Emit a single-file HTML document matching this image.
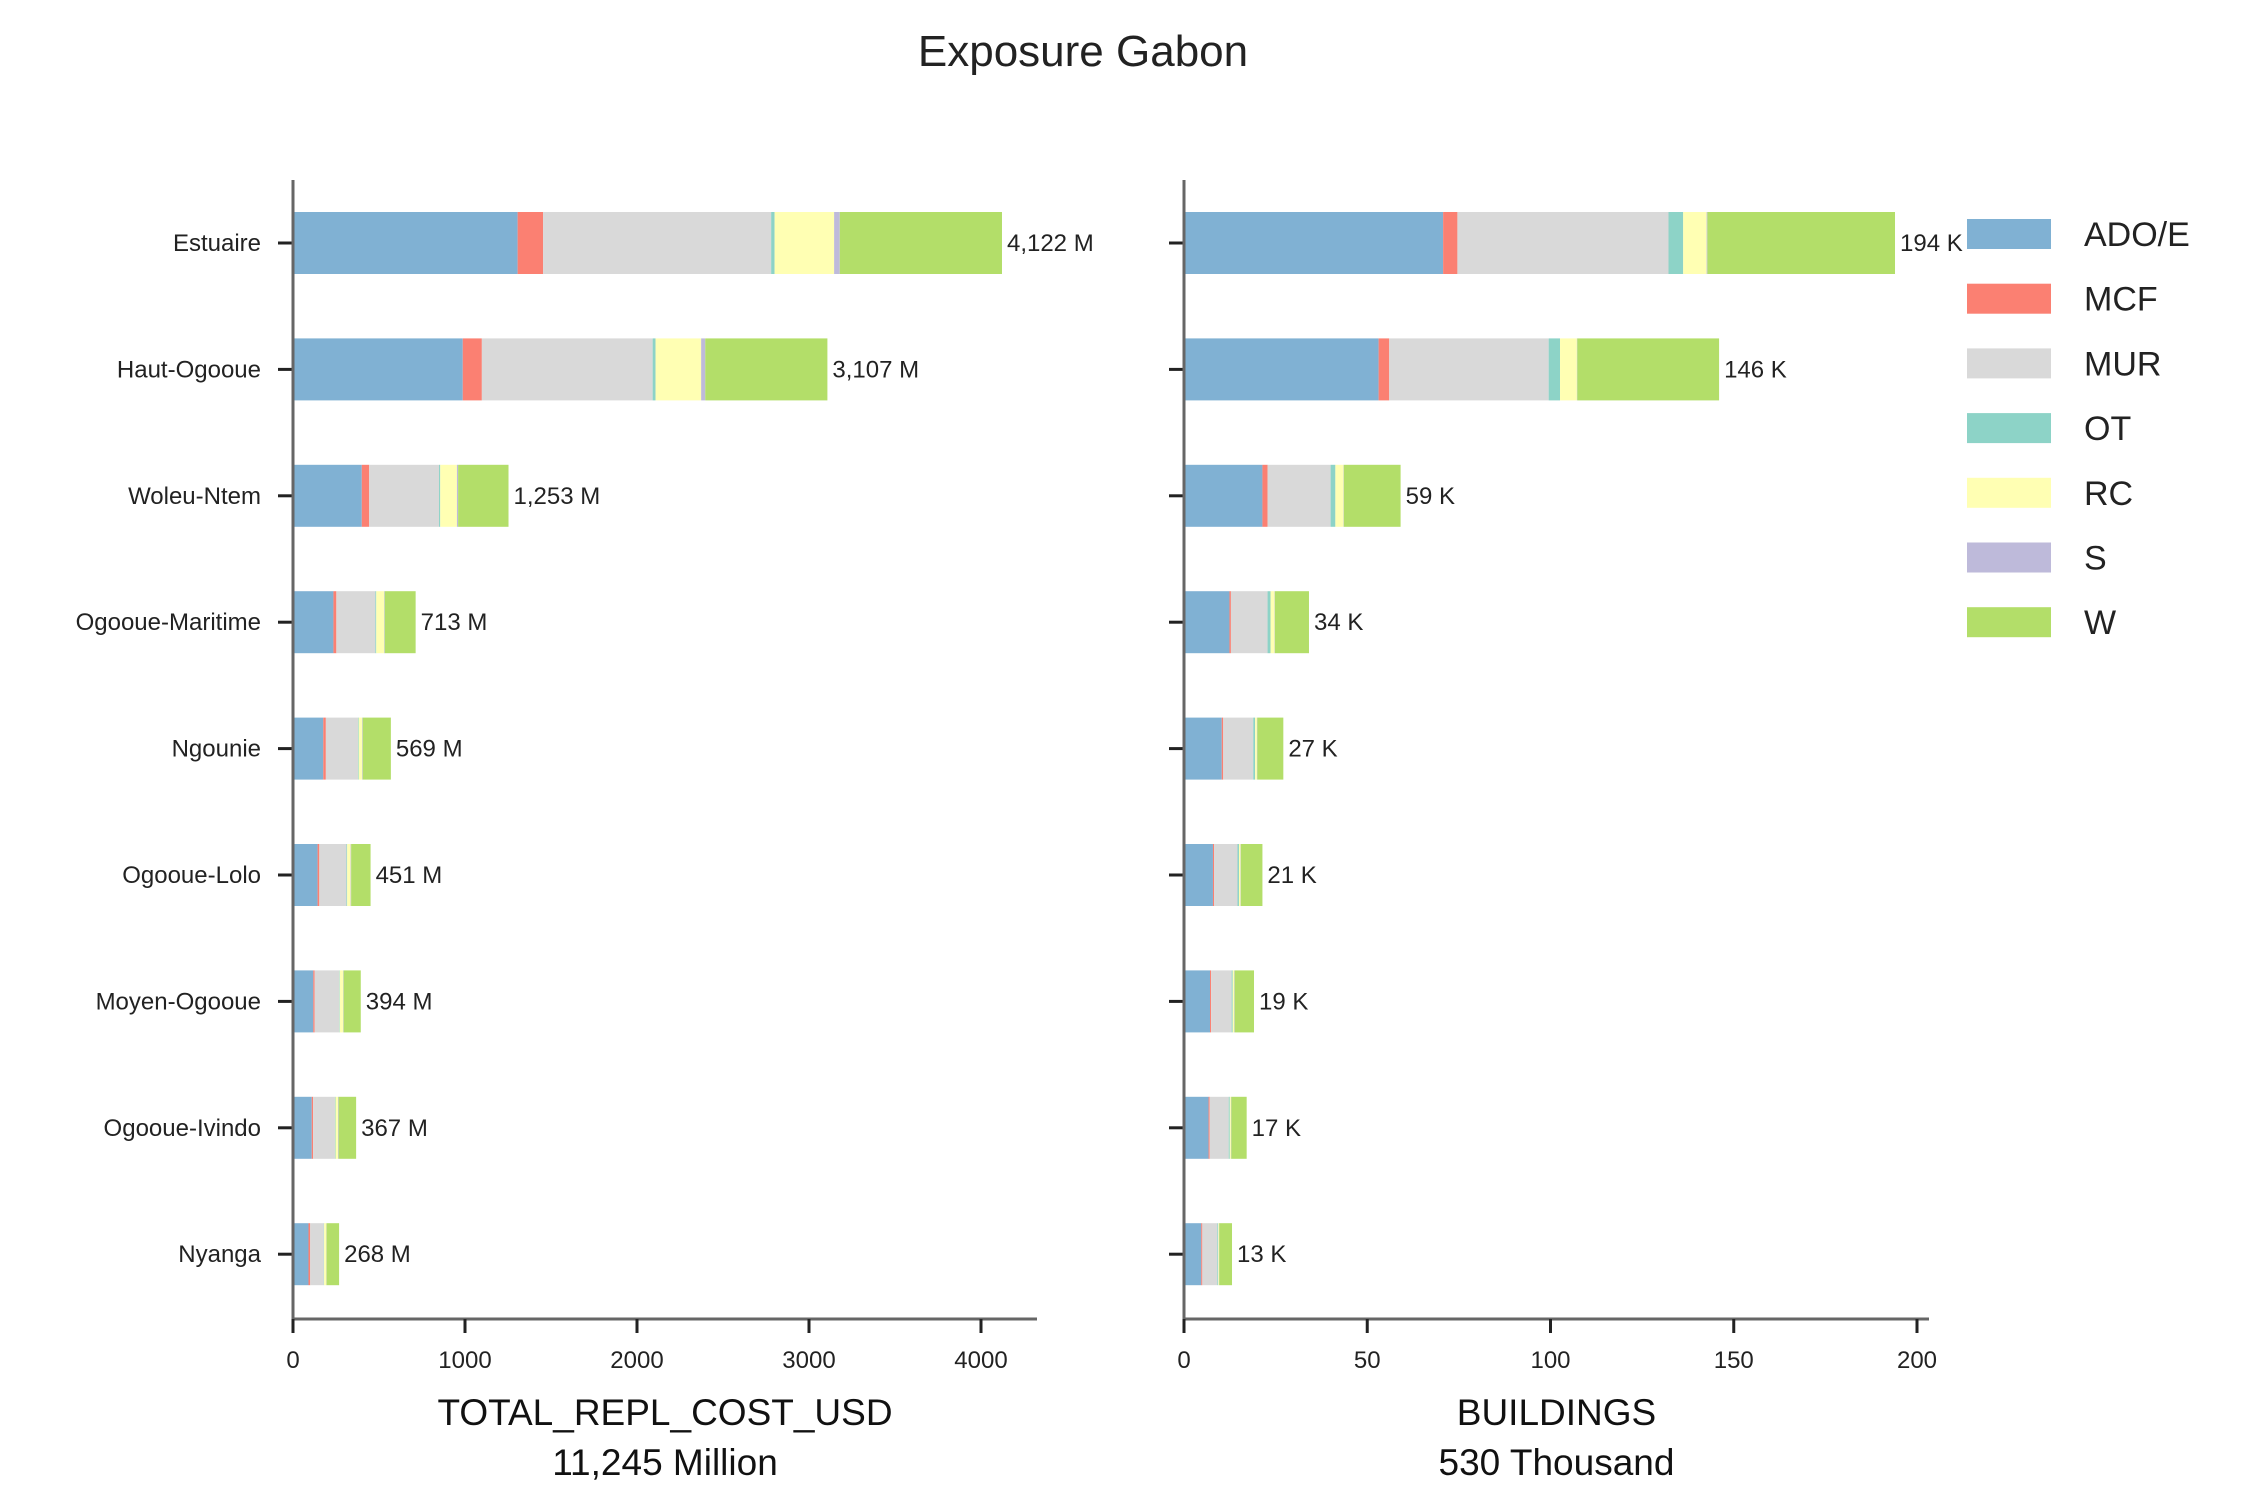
<!DOCTYPE html>
<html><head><meta charset="utf-8"><style>
html,body{margin:0;padding:0;background:#fff;}
svg{display:block;font-family:"Liberation Sans",sans-serif;}
</style></head><body>
<svg id="chart" width="2253" height="1511" viewBox="0 0 2253 1511" xmlns="http://www.w3.org/2000/svg">
<text x="1083" y="66" font-size="44" text-anchor="middle" fill="#222">Exposure Gabon</text>
<g id="left"></g>
<g id="right"></g>
<g id="legend"></g>
</svg>
<script>
const regions = ["Estuaire","Haut-Ogooue","Woleu-Ntem","Ogooue-Maritime","Ngounie","Ogooue-Lolo","Moyen-Ogooue","Ogooue-Ivindo","Nyanga"];
const series = ["ADO/E","MCF","MUR","OT","RC","S","W"];
const colors = ["#80b1d3","#fb8072","#d9d9d9","#8dd3c7","#ffffb3","#bebada","#b3de69"];
// replacement cost (million USD) per series per region
const costADO = [1306,987,400,235,176,143,118,109,90];
const costMCF = [148,111,43,17,15,10,8,8,10];
const costMUR = [1326,993,406,227,187,158,143,127,79];
const costOT  = [20,17,7,5,4,4,3,3,2];
const costRC  = [346,265,97,46,20,20,20,15,13];
const costS   = [33,24,7,3,3,3,2,3,1];
const costW   = [943,710,293,180,164,113,100,102,73];
const costTotals = ["4,122 M","3,107 M","1,253 M","713 M","569 M","451 M","394 M","367 M","268 M"];
const costTicks = [0,1000,2000,3000,4000];
// buildings (thousands)
const bldADO = [70.7,53.1,21.4,12.4,10.3,7.9,7.1,6.7,4.7];
const bldMCF = [3.9,2.9,1.4,0.4,0.4,0.3,0.3,0.3,0.3];
const bldMUR = [57.6,43.5,17.2,10.0,8.2,6.4,5.6,5.2,4.1];
const bldOT  = [4.0,3.1,1.3,0.8,0.5,0.4,0.3,0.3,0.2];
const bldRC  = [6.4,4.6,2.2,1.1,0.5,0.4,0.4,0.3,0.2];
const bldS   = [0.2,0.1,0.1,0.1,0.1,0.1,0.1,0.1,0.1];
const bldW   = [51.2,38.7,15.5,9.3,7.1,5.9,5.3,4.2,3.5];
const bldTotals = ["194 K","146 K","59 K","34 K","27 K","21 K","19 K","17 K","13 K"];
const bldTicks = [0,50,100,150,200];

const NS="http://www.w3.org/2000/svg";
function mk(tag,attrs,parent){const e=document.createElementNS(NS,tag);for(const k in attrs)e.setAttribute(k,attrs[k]);parent.appendChild(e);return e;}
const yTop=180, yBot=1319, rowY0=243, rowStep=126.4, barH=62;
function yPos(i){return rowY0+i*rowStep;}

function panel(g, x0, x1max, axisEnd, pxPerUnit, data, totals, ticks, showLabels, title1, title2, key){
  const xs=v=>x0+v*pxPerUnit;
  regions.forEach((r,i)=>{
    let acc=0;
    data.forEach((arr,s)=>{
      const v=arr[i];
      const rect=mk('rect',{x:xs(acc),y:yPos(i)-barH/2,width:Math.max(0,xs(acc+v)-xs(acc)),height:barH,fill:colors[s]},g);
      
      
      acc+=v;
    });
    const t=mk('text',{x:xs(acc)+5,y:yPos(i)+8,'font-size':24,fill:'#222'},g);
    t.textContent=totals[i];
    
    
    const tk=mk('line',{x1:x0-15,x2:x0,y1:yPos(i),y2:yPos(i),stroke:'#222','stroke-width':3},g);
    
    
    if(showLabels){
      const l=mk('text',{x:261,y:yPos(i)+8,'font-size':24,'text-anchor':'end',fill:'#222'},g);
      l.textContent=r;
      
      
    }
  });
  const sp=mk('line',{x1:x0,x2:x0,y1:yTop,y2:yBot,stroke:'#666','stroke-width':3},g);
  
  
  const bx=mk('line',{x1:x0-1.5,x2:axisEnd,y1:yBot,y2:yBot,stroke:'#666','stroke-width':3},g);
  
  
  ticks.forEach(v=>{
    const tl=mk('line',{x1:xs(v),x2:xs(v),y1:yBot,y2:yBot+14,stroke:'#222','stroke-width':3},g);
    
    
    const tt=mk('text',{x:xs(v),y:yBot+49,'font-size':24,'text-anchor':'middle',fill:'#222'},g);
    tt.textContent=String(v);
    
    
  });
  const cx=(x0+axisEnd)/2;
  const a1=mk('text',{x:cx,y:1425,'font-size':37,'text-anchor':'middle',fill:'#111'},g);
  a1.textContent=title1;
  
  
  const a2=mk('text',{x:cx,y:1475,'font-size':37,'text-anchor':'middle',fill:'#111'},g);
  a2.textContent=title2;
  
  
}
panel(document.getElementById('left'),293,981,1037,(981-293)/4000,
  [costADO,costMCF,costMUR,costOT,costRC,costS,costW],costTotals,costTicks,true,
  "TOTAL_REPL_COST_USD","11,245 Million","cost");
panel(document.getElementById('right'),1184,1917,1929,(1917-1184)/200,
  [bldADO,bldMCF,bldMUR,bldOT,bldRC,bldS,bldW],bldTotals,bldTicks,false,
  "BUILDINGS","530 Thousand","buildings");

const lg=document.getElementById('legend');
series.forEach((s,i)=>{
  const y=234+i*64.7;
  const p=mk('rect',{x:1967,y:y-15,width:84,height:30,fill:colors[i]},lg);
  
  
  const t=mk('text',{x:2084,y:y+12,'font-size':34,fill:'#222'},lg);
  t.textContent=s;
  
  
});
</script>
</body></html>
